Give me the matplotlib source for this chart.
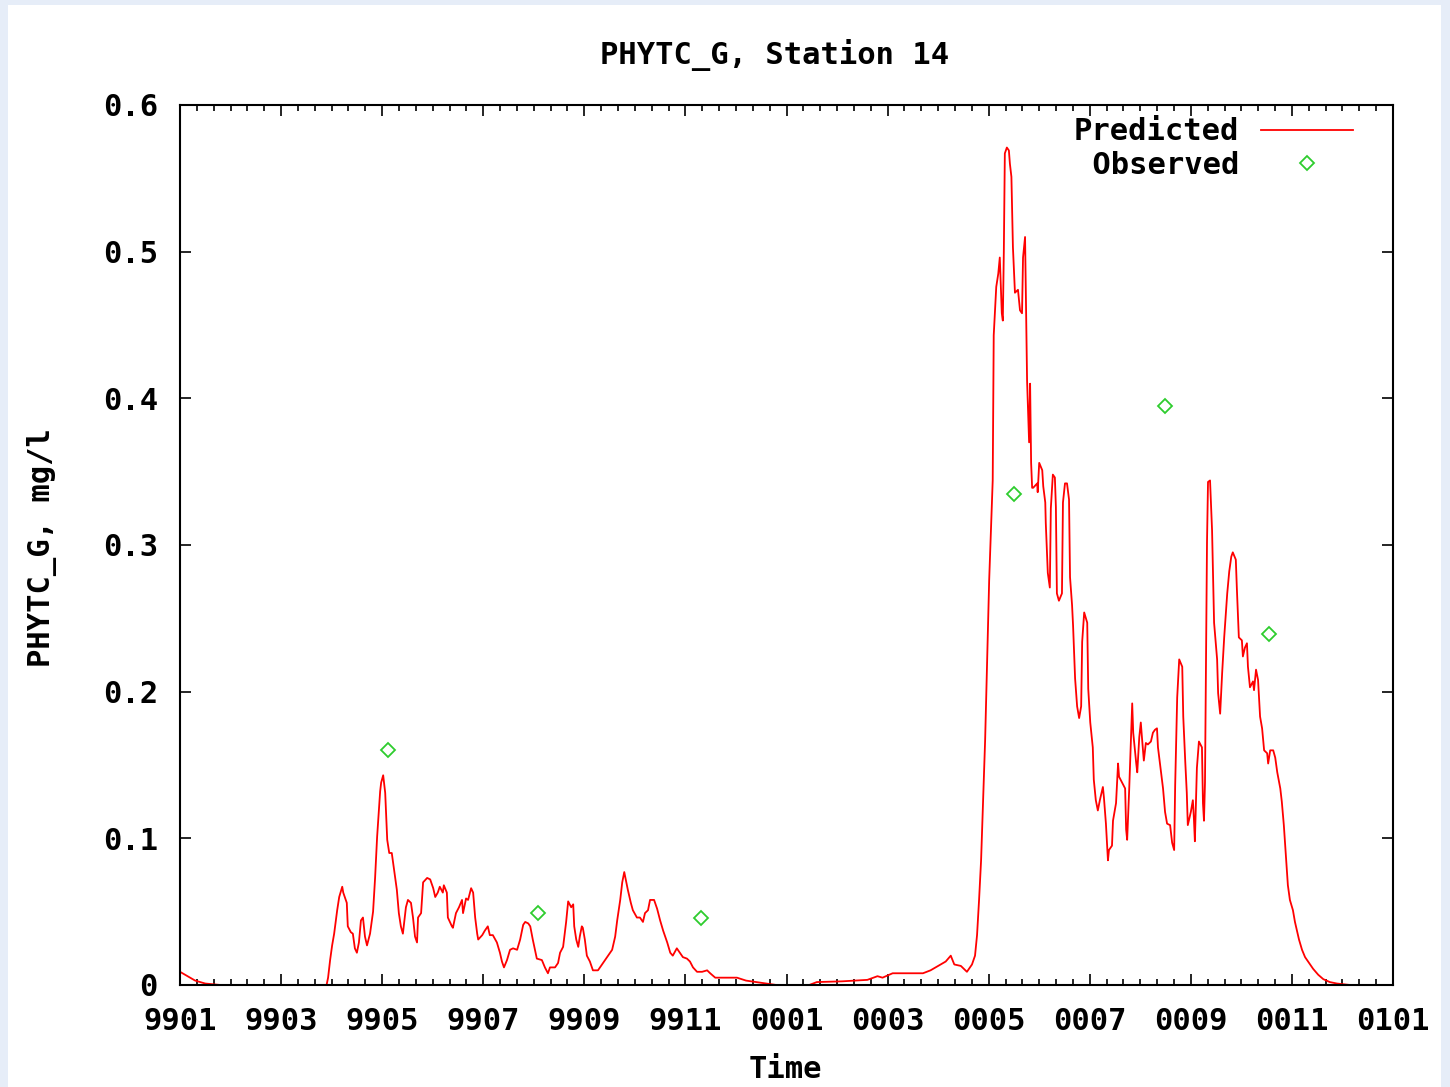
import matplotlib.pyplot as plt
from matplotlib.patches import Rectangle
from matplotlib.ticker import MultipleLocator

# months since Jan 1999
pred_month = [
    0.00, 0.15, 0.30, 0.50, 0.80, 2.90,
    2.93, 2.97, 3.01, 3.05, 3.11, 3.15, 3.21, 3.23, 3.30, 3.32,
    3.38, 3.42, 3.46, 3.50, 3.54, 3.58, 3.62, 3.66, 3.70, 3.76,
    3.82, 3.86, 3.90, 3.96, 3.98, 4.02, 4.06, 4.10, 4.14, 4.19,
    4.23, 4.29, 4.33, 4.37, 4.41, 4.47, 4.51, 4.57, 4.61, 4.65,
    4.69, 4.71, 4.77, 4.81, 4.89, 4.95, 5.01, 5.05, 5.10, 5.14,
    5.20, 5.22, 5.28, 5.30, 5.38, 5.40, 5.46, 5.52, 5.58, 5.60,
    5.66, 5.70, 5.76, 5.80, 5.84, 5.88, 5.90, 5.98, 6.03, 6.09,
    6.13, 6.19, 6.27, 6.33, 6.37, 6.41, 6.47, 6.53, 6.59, 6.67,
    6.73, 6.79, 6.83, 6.89,
    6.93, 6.98, 7.06, 7.16, 7.22, 7.28, 7.32, 7.42, 7.48, 7.52,
    7.58, 7.64, 7.68, 7.74, 7.78, 7.80, 7.84, 7.88, 7.91, 7.95,
    7.97, 8.01, 8.05, 8.11, 8.17, 8.27, 8.31, 8.41, 8.47, 8.55,
    8.61, 8.65, 8.71, 8.75, 8.79, 8.82, 8.86, 8.92, 8.96, 9.04,
    9.10, 9.16, 9.20, 9.26, 9.30, 9.38, 9.44, 9.50, 9.56, 9.64,
    9.70, 9.75, 9.83, 9.89, 9.95, 10.03, 10.09, 10.15, 10.23, 10.33,
    10.43, 10.49, 10.59, 10.74, 10.88, 11.02,
    11.20, 11.60, 11.80, 12.45, 12.60, 13.10, 13.60, 13.80, 13.90, 14.10,
    14.70, 14.85, 15.00, 15.15, 15.25, 15.32, 15.45, 15.57, 15.67,
    15.73, 15.77, 15.81, 15.85, 15.89, 15.93, 15.97, 16.01, 16.05, 16.08,
    16.10, 16.15, 16.19, 16.22, 16.26, 16.28, 16.30, 16.32, 16.36, 16.40,
    16.42, 16.45, 16.48, 16.52, 16.58, 16.62, 16.66, 16.68, 16.72, 16.76,
    16.80, 16.82, 16.84, 16.86, 16.88, 16.96, 16.97, 17.00, 17.06, 17.08,
    17.12, 17.13, 17.17, 17.21, 17.23, 17.27, 17.31, 17.33, 17.35, 17.39,
    17.45, 17.47, 17.51, 17.55, 17.59, 17.61, 17.65, 17.67, 17.71, 17.75,
    17.79, 17.83, 17.85, 17.89, 17.95, 17.97, 18.01, 18.06, 18.08, 18.12,
    18.16, 18.20, 18.26, 18.28, 18.32, 18.36, 18.38, 18.44, 18.46, 18.52,
    18.56, 18.58, 18.64, 18.70, 18.72, 18.74, 18.78, 18.84, 18.86, 18.92,
    18.94, 18.98, 19.01, 19.03, 19.07, 19.11, 19.15, 19.21, 19.25, 19.29,
    19.33, 19.35, 19.41, 19.45, 19.49, 19.53, 19.59, 19.63, 19.67, 19.69,
    19.73, 19.77, 19.83, 19.85, 19.89, 19.92, 19.94, 20.00, 20.04, 20.06,
    20.08, 20.12, 20.16, 20.22, 20.24, 20.26, 20.28, 20.32, 20.34, 20.38,
    20.42, 20.46, 20.52, 20.54, 20.58, 20.62, 20.66, 20.72, 20.76, 20.80,
    20.83, 20.89, 20.91, 20.95, 21.01, 21.03, 21.07, 21.11, 21.13, 21.17,
    21.23, 21.25, 21.29, 21.33, 21.37, 21.41, 21.45, 21.51, 21.53, 21.57,
    21.63, 21.67, 21.71, 21.77, 21.80, 21.84, 21.88, 21.92, 21.96, 22.02,
    22.06, 22.10, 22.14, 22.20, 22.26, 22.32, 22.42, 22.52, 22.62, 22.75,
    22.89, 23.15,
]
pred_value = [
    0.009, 0.006, 0.003, 0.001, 0.000, 0.000,
    0.005, 0.017, 0.027, 0.035, 0.051, 0.060, 0.067, 0.063, 0.056, 0.040,
    0.036, 0.035, 0.025, 0.022, 0.029, 0.044, 0.046, 0.033, 0.027, 0.035,
    0.050, 0.073, 0.101, 0.132, 0.138, 0.143, 0.131, 0.099, 0.090, 0.090,
    0.080, 0.065, 0.049, 0.040, 0.035, 0.053, 0.058, 0.056, 0.046, 0.033,
    0.029, 0.046, 0.049, 0.070, 0.073, 0.072, 0.066, 0.060, 0.063, 0.067,
    0.063, 0.068, 0.063, 0.046, 0.040, 0.039, 0.049, 0.053, 0.058, 0.049,
    0.059, 0.058, 0.066, 0.063, 0.046, 0.035, 0.031, 0.034, 0.037, 0.040,
    0.034, 0.034, 0.029, 0.022, 0.016, 0.012, 0.017, 0.024, 0.025, 0.024,
    0.031, 0.041, 0.043, 0.042,
    0.040, 0.031, 0.018, 0.017, 0.012, 0.008, 0.012, 0.012, 0.015, 0.022,
    0.026, 0.043, 0.057, 0.053, 0.055, 0.040, 0.031, 0.026, 0.033, 0.040,
    0.039, 0.031, 0.020, 0.016, 0.010, 0.010, 0.012, 0.017, 0.020, 0.024,
    0.033, 0.044, 0.058, 0.070, 0.077, 0.072, 0.065, 0.056, 0.051, 0.046,
    0.046, 0.043, 0.049, 0.051, 0.058, 0.058, 0.052, 0.044, 0.037, 0.029,
    0.022, 0.020, 0.025, 0.022, 0.019, 0.018, 0.016, 0.012, 0.009, 0.009,
    0.010, 0.008, 0.005, 0.005, 0.005, 0.005,
    0.003, 0.001, 0.000, 0.000, 0.002, 0.0025, 0.0035, 0.006, 0.005, 0.008,
    0.008, 0.010, 0.013, 0.016, 0.020, 0.014, 0.013, 0.009, 0.014,
    0.020, 0.034, 0.058, 0.085, 0.126, 0.167, 0.222, 0.276, 0.316, 0.344,
    0.443, 0.476, 0.485, 0.496, 0.458, 0.453, 0.500, 0.567, 0.571, 0.569,
    0.560, 0.551, 0.503, 0.472, 0.474, 0.460, 0.458, 0.496, 0.510, 0.412,
    0.370, 0.410, 0.356, 0.339, 0.339, 0.342, 0.336, 0.356, 0.351, 0.340,
    0.329, 0.315, 0.281, 0.271, 0.325, 0.348, 0.346, 0.326, 0.267, 0.262,
    0.267, 0.329, 0.342, 0.342, 0.331, 0.278, 0.259, 0.245, 0.209, 0.190,
    0.182, 0.190, 0.234, 0.254, 0.247, 0.202, 0.179, 0.162, 0.140, 0.126,
    0.119, 0.126, 0.135, 0.128, 0.110, 0.085, 0.092, 0.095, 0.112, 0.124,
    0.151, 0.142, 0.138, 0.134, 0.106, 0.099, 0.133, 0.192, 0.172, 0.151,
    0.145, 0.169, 0.179, 0.170, 0.153, 0.165, 0.164, 0.166, 0.172, 0.174,
    0.175, 0.162, 0.145, 0.134, 0.118, 0.110, 0.109, 0.097, 0.092, 0.136,
    0.196, 0.222, 0.217, 0.183, 0.152, 0.131, 0.109, 0.118, 0.126, 0.114,
    0.098, 0.148, 0.166, 0.162, 0.124, 0.112, 0.138, 0.302, 0.343, 0.344,
    0.310, 0.247, 0.222, 0.199, 0.185, 0.213, 0.237, 0.267, 0.282, 0.292,
    0.295, 0.290, 0.271, 0.237, 0.235, 0.224, 0.230, 0.233, 0.217, 0.203,
    0.207, 0.201, 0.215, 0.208, 0.183, 0.175, 0.160, 0.158, 0.151, 0.160,
    0.160, 0.155, 0.145, 0.134, 0.125, 0.109, 0.089, 0.068, 0.058, 0.051,
    0.043, 0.037, 0.031, 0.024, 0.019, 0.016, 0.011, 0.007, 0.004, 0.002,
    0.001, 0.000,
]

obs_month = [4.12, 7.08, 10.31, 16.50, 19.49, 21.55]
obs_value = [0.160, 0.049, 0.046, 0.335, 0.395, 0.239]

xtick_pos = [0, 2, 4, 6, 8, 10, 12, 14, 16, 18, 20, 22, 24]
xtick_labels = ['9901', '9903', '9905', '9907', '9909', '9911', '0001',
                '0003', '0005', '0007', '0009', '0011', '0101']
ytick_pos = [0, 0.1, 0.2, 0.3, 0.4, 0.5, 0.6]
ytick_labels = ['0', '0.1', '0.2', '0.3', '0.4', '0.5', '0.6']

plt.rcParams['font.family'] = ['DejaVu Sans Mono']
plt.rcParams['font.weight'] = 'bold'
fs = 22

fig = plt.figure(figsize=(14.5, 10.87), dpi=100, facecolor='#e6edf8')
fig.patches.append(Rectangle((8 / 1450, 0), 1433 / 1450, 1082 / 1087,
                             transform=fig.transFigure, facecolor='white',
                             edgecolor='none', zorder=-10))

ax = fig.add_axes([180 / 1450, 1 - 985 / 1087, 1213 / 1450, 880 / 1087])
ax.set_facecolor('white')
ax.plot(pred_month, pred_value, color='#ff0000', lw=1.3, label='Predicted')
ax.plot(obs_month, obs_value, linestyle='none', marker='D', markersize=7.5,
        markerfacecolor='none', markeredgecolor='#2ecc2e', markeredgewidth=1.3,
        label=' Observed')

ax.set_xlim(0, 24)
ax.set_ylim(0, 0.6)
ax.set_xticks(xtick_pos)
ax.set_xticklabels(xtick_labels)
ax.set_yticks(ytick_pos)
ax.set_yticklabels(ytick_labels)
ax.xaxis.set_minor_locator(MultipleLocator(1 / 3))
ax.tick_params(axis='both', which='both', direction='in', top=True, right=True,
               color='black', width=1.2)
ax.tick_params(axis='both', which='major', length=8, labelsize=fs)
ax.tick_params(axis='both', which='minor', length=4)
ax.tick_params(axis='x', which='major', pad=15.5)
ax.tick_params(axis='y', which='major', pad=16)
for sp in ax.spines.values():
    sp.set_linewidth(1.5)

leg = ax.legend(loc='upper right', bbox_to_anchor=(0.967, 0.986), frameon=False,
                markerfirst=False, fontsize=fs, handlelength=3.0,
                handletextpad=0.72, labelspacing=0.15, borderpad=0,
                borderaxespad=0, numpoints=1)

fig.text(775 / 1450, 1 - 55 / 1087, 'PHYTC_G, Station 14', fontsize=fs,
         ha='center', va='center')
fig.text(785 / 1450, 1 - 1070 / 1087, 'Time', fontsize=fs, ha='center', va='center')
fig.text(42 / 1450, 1 - 548 / 1087, 'PHYTC_G, mg/l', fontsize=fs, rotation=90,
         ha='center', va='center')

fig.savefig('out.png', dpi=100, facecolor=fig.get_facecolor())
